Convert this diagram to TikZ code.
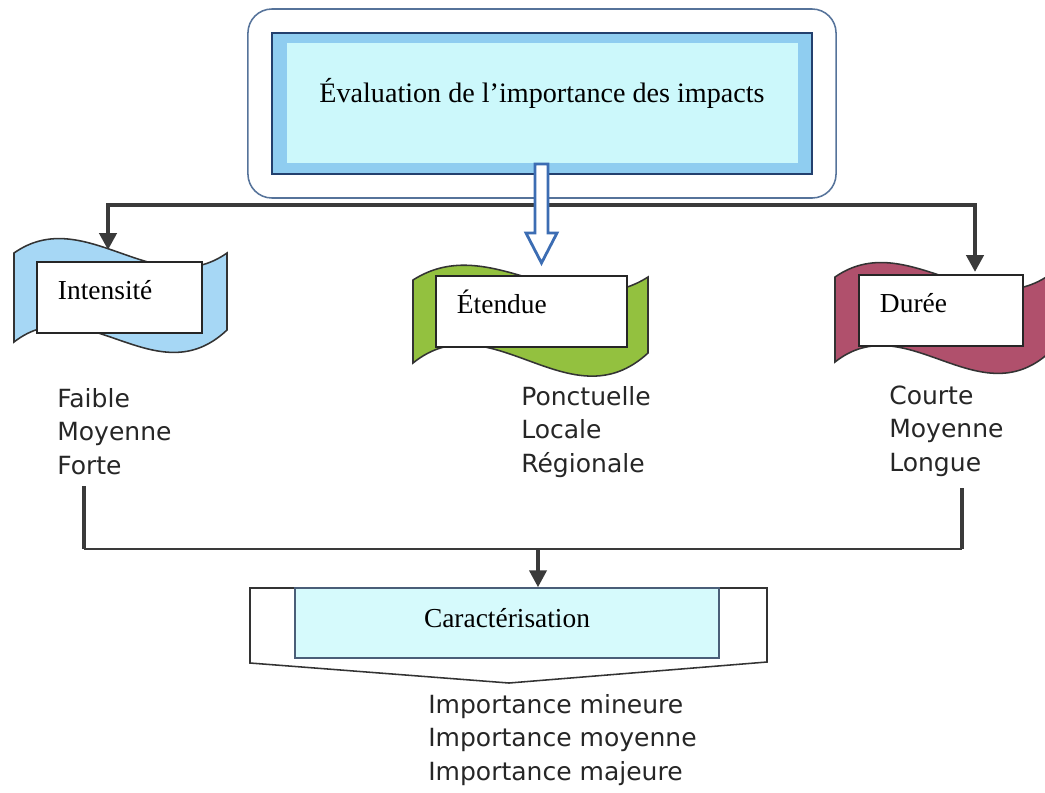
\documentclass[tikz,border=0pt]{standalone}
\usepackage{fontspec}
\setmainfont{Liberation Serif}
\newfontfamily\listfont{DejaVu Sans}
\usetikzlibrary{arrows.meta,fit,positioning}
\definecolor{evalblue}{HTML}{8FCDF0}
\definecolor{evallight}{HTML}{CCF8FB}
\definecolor{evalnavy}{HTML}{23406E}
\definecolor{framegray}{HTML}{56739A}
\definecolor{wavblue}{HTML}{A6D7F5}
\definecolor{wavgreen}{HTML}{93C13F}
\definecolor{wavred}{HTML}{B0506C}
\definecolor{linkgray}{HTML}{3A3A3A}
\definecolor{hollowblue}{HTML}{3C6DB3}
\definecolor{caraccyan}{HTML}{D6FAFC}
\definecolor{caracedge}{HTML}{4A5E78}

\begin{document}
\begin{tikzpicture}[x=0.025cm,y=-0.025cm,>={Triangle[length=12pt,width=12pt]},
link/.style={draw=linkgray,line width=3.2pt},
thinlink/.style={draw=linkgray,line width=1.4pt},
wave/.style={draw=black!80,line width=1.1pt},
tag/.style={draw=black!85,fill=white,line width=1.1pt,font=\fontsize{19.5}{23}\selectfont,inner xsep=0.525cm,inner ysep=0pt,minimum height=1.775cm,text height=0.3cm,text depth=0.225cm,align=left},
listtext/.style={font=\listfont\fontsize{17.8}{23.8}\selectfont,text=black!85,inner sep=0pt,align=left,anchor=north west}]
\useasboundingbox (0,0) rectangle (1045,792);
\clip (0,0) rectangle (1045,792);
% title box
\node (eval) at (542,103.5) [draw=evalnavy,line width=1.4pt,fill=evalblue,minimum width=13.5cm,minimum height=3.525cm,inner sep=0pt,text height=0.55cm,text depth=0.625cm,font=\fontsize{20}{24}\selectfont,
path picture={\fill[evallight] ([xshift=0.375cm,yshift=0.275cm]path picture bounding box.south west) rectangle ([xshift=-0.35cm,yshift=-0.25cm]path picture bounding box.north east);}] {Évaluation de l'importance des impacts};
\node (evalframe) [fit=(eval),draw=framegray,line width=1.1pt,rounded corners=0.6cm,inner sep=0.575cm] {};
% banners
\filldraw[wave,fill=wavblue] (14,253) .. controls (85,203) and (156,303) .. (227,253) -- (227,330) .. controls (156,397) and (85,287) .. (14,342) -- cycle;
\filldraw[wave,fill=wavgreen] (413,280) .. controls (491,230) and (570,327) .. (648,277) -- (648,353) .. controls (570,425) and (491,300) .. (413,363) -- cycle;
\filldraw[wave,fill=wavred] (835,277) .. controls (907,227) and (980,327) .. (1052,273) -- (1052,350) .. controls (980,420) and (907,305) .. (835,362) -- cycle;
\node[tag,text width=3.075cm] (intens) at (119.5,297.5) {Intensité};
\node[tag,text width=3.725cm] (etend) at (531.5,311.5) {Étendue};
\node[tag,text width=3.05cm] (duree) at (941,310.5) {Durée};
% top connectors
\coordinate (hub) at (541,205);
\coordinate (tipI) at (108,250);
\coordinate (tipD) at (975,272);
\draw[link,->] (hub) -| (tipI);
\draw[link,->] (hub) -| (tipD);
\draw[hollowblue,line width=2pt,fill=white] (535,164) -- (535,233) -- (526,233) -- (541.5,263) -- (557,233) -- (548,233) -- (548,164) -- cycle;
% lists
\node[listtext] (intlist) at (57,388) {Faible\\Moyenne\\Forte};
\node[listtext] (etlist) at (521,386) {Ponctuelle\\Locale\\Régionale};
\node[listtext] (dulist) at (889,385.5) {Courte\\Moyenne\\Longue};
\node[listtext] (implist) at (428,694) {Importance mineure\\Importance moyenne\\Importance majeure};
% bottom connectors
\coordinate (outI) at (84,486);
\coordinate (outD) at (962,488);
\coordinate (joinC) at (538,549);
\draw[thinlink] (outI |- joinC) -- (outD |- joinC);
\draw[link] (outI) -- (outI |- joinC);
\draw[link] (outD) -- (outD |- joinC);
\filldraw[draw=black!80,fill=white,line width=1.1pt] (250,588) -- (767,588) -- (767,662) -- (509,683) -- (250,663) -- cycle;
\node (carac) at (507,623) [draw=caracedge,line width=1pt,fill=caraccyan,minimum width=10.6cm,minimum height=1.75cm,inner sep=0pt,text height=0.4cm,text depth=0.2cm,font=\fontsize{19.5}{23}\selectfont] {Caractérisation};
\draw[link,line width=2.8pt,->] (joinC) -- (carac.north -| joinC);
\end{tikzpicture}
\end{document}
